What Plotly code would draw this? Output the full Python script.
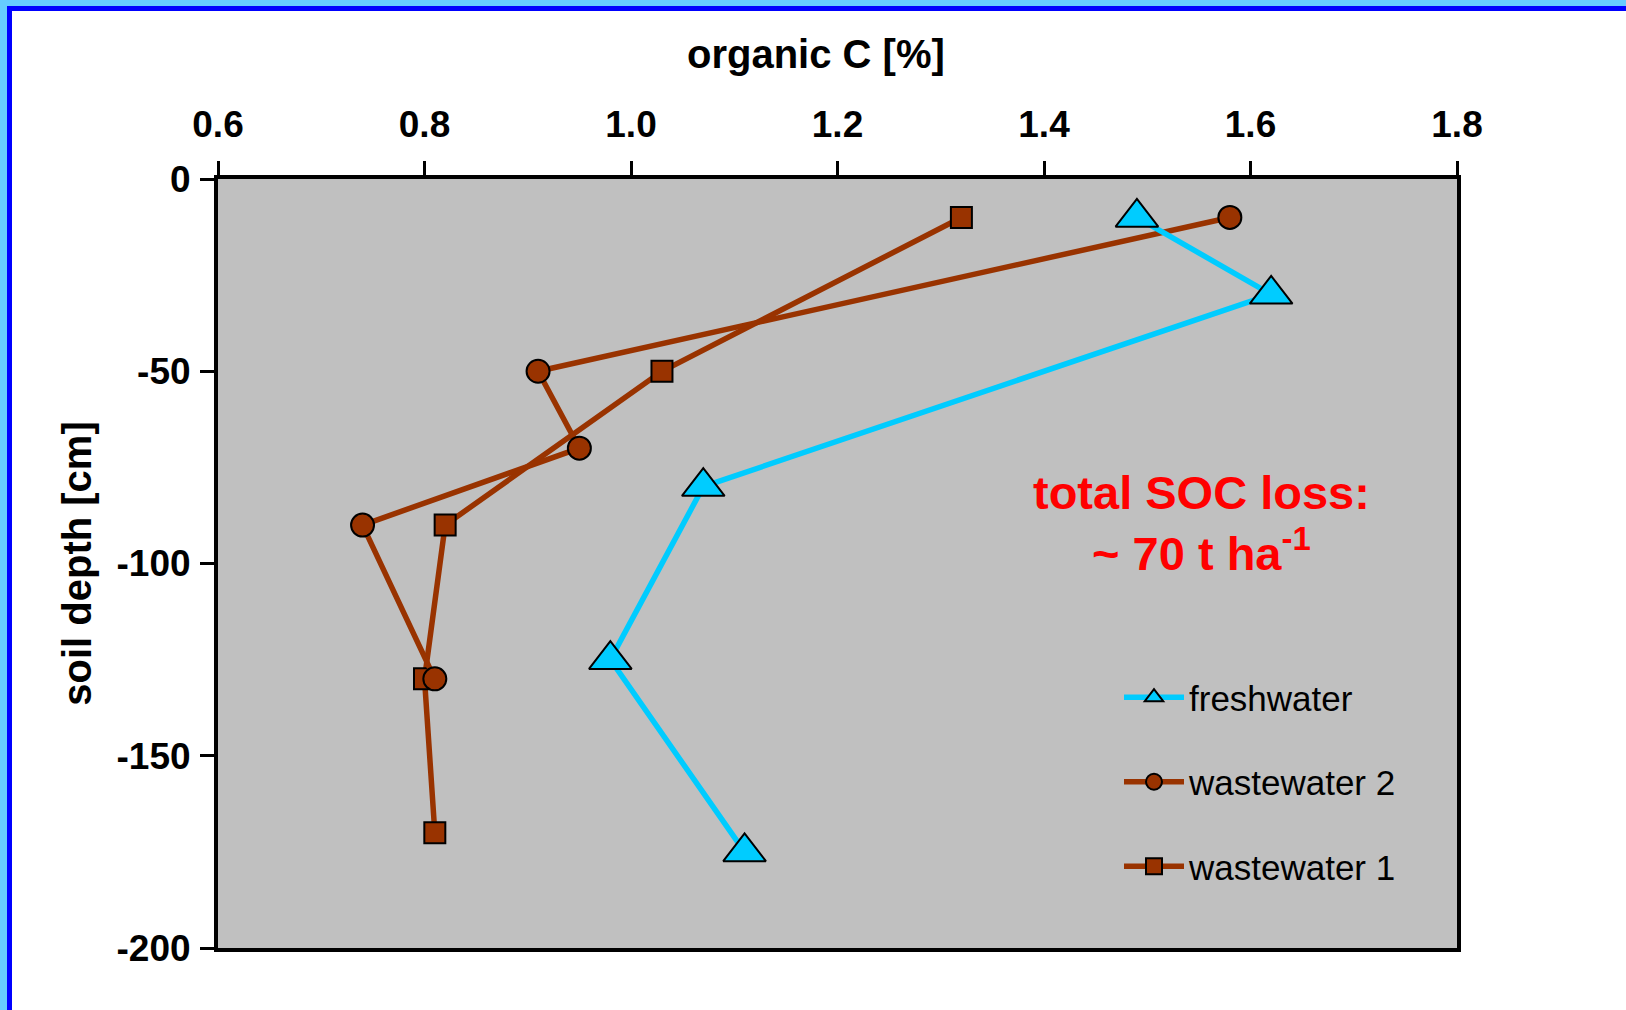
import plotly.graph_objects as go

# ---- data ----
fresh_c = [1.49, 1.62, 1.07, 0.98, 1.11]
fresh_depth = [-10, -30, -80, -125, -175]
ww2_c = [1.58, 0.91, 0.95, 0.74, 0.81]
ww2_depth = [-10, -50, -70, -90, -130]
ww1_c = [1.32, 1.03, 0.82, 0.80, 0.81]
ww1_depth = [-10, -50, -90, -130, -170]
x_ticks = [0.6, 0.8, 1.0, 1.2, 1.4, 1.6, 1.8]
x_tick_text = ["0.6", "0.8", "1.0", "1.2", "1.4", "1.6", "1.8"]
y_ticks = [0, -50, -100, -150, -200]
y_tick_text = ["0", "-50", "-100", "-150", "-200"]

BROWN = "#993300"
CYAN = "#00CCFF"
FONT = "Liberation Sans, Arial, sans-serif"

W, H = 1626, 1010
ML, MR, MT, MB = 218, 169, 179, 62
PW, PH = W - ML - MR, H - MT - MB


def px_x(p):
    return (p - ML) / PW


def px_y(p):
    return (MT + PH - p) / PH


fig = go.Figure()

fig.add_trace(go.Scatter(
    x=ww1_c, y=ww1_depth, name="wastewater 1", mode="lines+markers",
    line=dict(color=BROWN, width=5.5),
    marker=dict(symbol="square", size=21, color=BROWN, line=dict(color="black", width=2)),
    legendgroup="g3", legendrank=3,
))
fig.add_trace(go.Scatter(
    x=ww2_c, y=ww2_depth, name="wastewater 2", mode="lines+markers",
    line=dict(color=BROWN, width=5.5),
    marker=dict(symbol="circle", size=23, color=BROWN, line=dict(color="black", width=2)),
    legendgroup="g2", legendrank=2,
))
fig.add_trace(go.Scatter(
    x=fresh_c, y=fresh_depth, name="freshwater", mode="lines+markers",
    line=dict(color=CYAN, width=5.5),
    marker=dict(symbol="triangle-up", size=37, color=CYAN, line=dict(color="black", width=2)),
    legendgroup="g1", legendrank=1,
))

fig.add_annotation(
    x=1.553, y=-89.5, xref="x", yref="y",
    text="total SOC loss:<br>~ 70 t ha<sup>-1</sup>",
    showarrow=False, align="center",
    font=dict(family=FONT, size=47, color="#FF0000", weight="bold"),
)

# x axis title (placed as in the reference, slightly left of centre)
fig.add_annotation(
    x=px_x(816), y=px_y(54), xref="paper", yref="paper",
    xanchor="center", yanchor="middle",
    text="organic C [%]", showarrow=False,
    font=dict(family=FONT, size=40, color="black", weight="bold"),
)

# outer frame
frame = [
    (0, 0, W, 6, "#66CCFF"),
    (0, 0, 7, H, "#66CCFF"),
    (7, 6, W, 11, "#0000FF"),
    (7, 6, 12, H, "#0000FF"),
]
for x0, y0, x1, y1, c in frame:
    fig.add_shape(type="rect", xref="paper", yref="paper",
                  x0=px_x(x0), x1=px_x(x1), y0=px_y(y1), y1=px_y(y0),
                  fillcolor=c, line=dict(width=0), layer="above")

fig.update_layout(
    width=W, height=H,
    margin=dict(l=ML, r=MR, t=MT, b=MB),
    paper_bgcolor="white", plot_bgcolor="#C0C0C0",
    font=dict(family=FONT, color="black"),
    showlegend=True,
    legend=dict(
        x=px_x(1119), y=px_y(668), xanchor="left", yanchor="top",
        bgcolor="rgba(0,0,0,0)", borderwidth=0,
        font=dict(family=FONT, size=35, color="black"),
        traceorder="grouped", tracegroupgap=36, itemwidth=60,
        itemsizing="trace",
    ),
    xaxis=dict(
        side="top", range=[0.6, 1.8], tickvals=x_ticks, ticktext=x_tick_text,
        showgrid=False, zeroline=False,
        showline=True, linecolor="black", linewidth=4, mirror=True,
        ticks="outside", ticklen=14, tickwidth=3, tickcolor="black",
        ticklabelstandoff=9,
        tickfont=dict(family=FONT, size=37, color="black", weight="bold"),
    ),
    yaxis=dict(
        range=[-200, 0], tickvals=y_ticks, ticktext=y_tick_text,
        showgrid=False, zeroline=False,
        showline=True, linecolor="black", linewidth=4, mirror=True,
        ticks="outside", ticklen=14, tickwidth=3, tickcolor="black",
        ticklabelstandoff=2,
        tickfont=dict(family=FONT, size=37, color="black", weight="bold"),
        title=dict(text="soil depth [cm]", standoff=14,
                   font=dict(family=FONT, size=40, color="black", weight="bold")),
    ),
)

fig.write_html(
    "out.html",
    config={"displayModeBar": False},
    post_script="document.body.style.margin='0';document.body.style.padding='0';",
)
